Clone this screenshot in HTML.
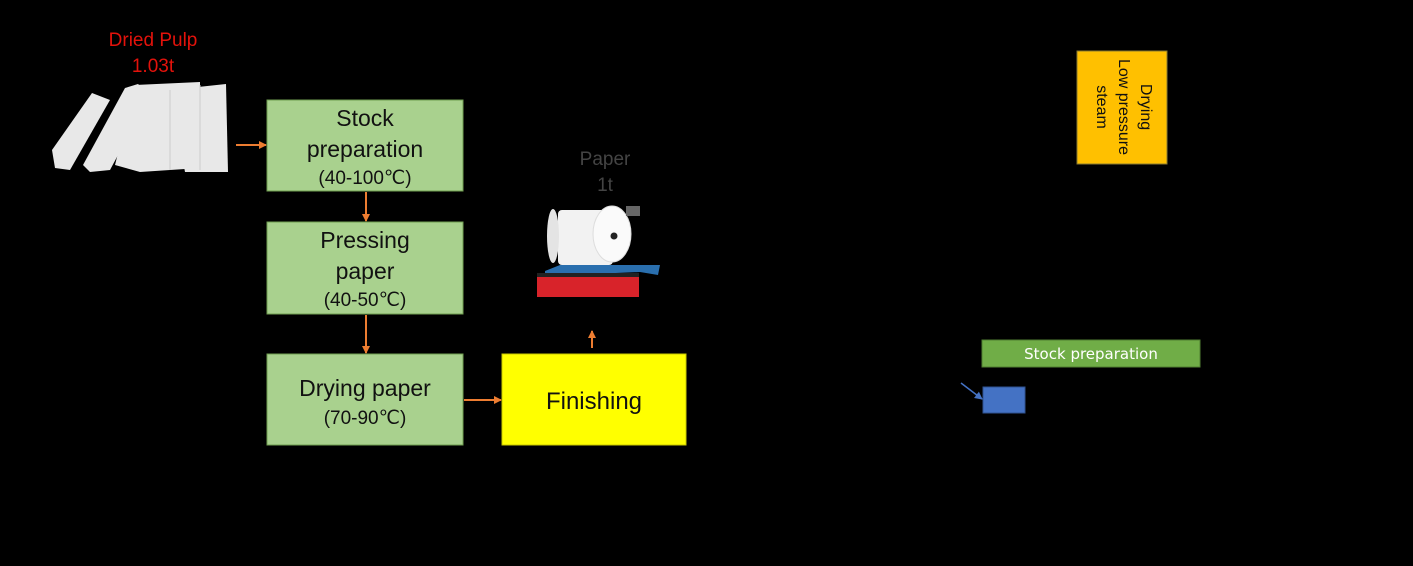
<!DOCTYPE html>
<html><head><meta charset="utf-8"><style>
html,body{margin:0;padding:0;background:#000;}
svg{display:block}
text{font-family:"Liberation Sans",sans-serif}
</style></head><body>
<svg width="1413" height="566" viewBox="0 0 1413 566" xmlns="http://www.w3.org/2000/svg">
<defs>
<marker id="ao" markerWidth="8" markerHeight="8" refX="7" refY="4" orient="auto" markerUnits="userSpaceOnUse"><path d="M0,0 L8,4 L0,8 z" fill="#ed7d31"/></marker>
<marker id="ab" markerWidth="8" markerHeight="8" refX="7" refY="4" orient="auto" markerUnits="userSpaceOnUse"><path d="M0,0 L8,4 L0,8 z" fill="#4472c4"/></marker>
</defs>
<rect width="1413" height="566" fill="#000"/>
<!-- Dried pulp -->
<text x="153" y="46" fill="#e3120b" font-size="19" text-anchor="middle">Dried Pulp</text>
<text x="153" y="72" fill="#e3120b" font-size="19" text-anchor="middle">1.03t</text>
<g fill="#e8e8e8">
<polygon points="52,150 92,93 110,100 70,170 55,168"/>
<polygon points="83,165 125,88 138,84 150,95 110,170 90,172"/>
<polygon points="115,165 135,85 200,82 200,168 140,172"/>
<polygon points="170,90 226,84 228,172 185,172"/>
</g>
<g stroke="#ccc" stroke-width="1" fill="none"><line x1="170" y1="90" x2="170" y2="170"/><line x1="200" y1="85" x2="200" y2="170"/></g>
<!-- arrows -->
<g stroke="#ed7d31" stroke-width="2" fill="none">
<line x1="236" y1="145" x2="266" y2="145" marker-end="url(#ao)"/>
<line x1="366" y1="192" x2="366" y2="221" marker-end="url(#ao)"/>
<line x1="366" y1="315" x2="366" y2="353" marker-end="url(#ao)"/>
<line x1="464" y1="400" x2="501" y2="400" marker-end="url(#ao)"/>
<line x1="592" y1="348" x2="592" y2="331" marker-end="url(#ao)"/>
</g>
<!-- green boxes -->
<g fill="#a9d18e" stroke="#6f9e50" stroke-width="1">
<rect x="267" y="100" width="196" height="91"/>
<rect x="267" y="222" width="196" height="92"/>
<rect x="267" y="354" width="196" height="91"/>
</g>
<g fill="#111" text-anchor="middle">
<text x="365" y="126" font-size="23">Stock</text>
<text x="365" y="157" font-size="23">preparation</text>
<text x="365" y="184" font-size="19">(40-100℃)</text>
<text x="365" y="248" font-size="23">Pressing</text>
<text x="365" y="279" font-size="23">paper</text>
<text x="365" y="306" font-size="19">(40-50℃)</text>
<text x="365" y="396" font-size="23">Drying paper</text>
<text x="365" y="424" font-size="19">(70-90℃)</text>
</g>
<rect x="502" y="354" width="184" height="91" fill="#ffff00" stroke="#c8c800"/>
<text x="594" y="409" font-size="24" text-anchor="middle" fill="#111">Finishing</text>
<!-- paper roll -->
<text x="605" y="165" fill="#444" font-size="19" text-anchor="middle">Paper</text>
<text x="605" y="191" fill="#444" font-size="19" text-anchor="middle">1t</text>
<polygon points="545,271 560,265 660,265 658,275 640,272 545,276" fill="#2a6fae"/>
<rect x="537" y="273" width="102" height="24" fill="#d8232a"/>
<rect x="537" y="273" width="102" height="4" fill="#222"/>
<rect x="558" y="210" width="55" height="55" rx="4" fill="#f2f2f2"/>
<ellipse cx="612" cy="234" rx="19" ry="28" fill="#fafafa" stroke="#ddd"/>
<ellipse cx="553" cy="236" rx="6" ry="27" fill="#e4e4e4"/>
<circle cx="614" cy="236" r="3.5" fill="#222"/>
<rect x="626" y="206" width="14" height="10" fill="#666"/>
<!-- right side -->
<rect x="1077" y="51" width="90" height="113" fill="#ffc000" stroke="#8a7a30"/>
<g transform="translate(1122,107) rotate(90)" fill="#111" font-size="16" text-anchor="middle" style="font-family:'DejaVu Sans',sans-serif">
<text x="0" y="-19">Drying</text>
<text x="0" y="3">Low pressure</text>
<text x="0" y="25">steam</text>
</g>
<rect x="982" y="340" width="218" height="27" fill="#70ad47" stroke="#507e32"/>
<text x="1091" y="359" fill="#fff" font-size="15" text-anchor="middle" style="font-family:'DejaVu Sans',sans-serif">Stock preparation</text>
<rect x="983" y="387" width="42" height="26" fill="#4472c4" stroke="#2f528f"/>
<line x1="961" y1="383" x2="982" y2="399" stroke="#4472c4" stroke-width="1.5" marker-end="url(#ab)"/>
</svg>
</body></html>
